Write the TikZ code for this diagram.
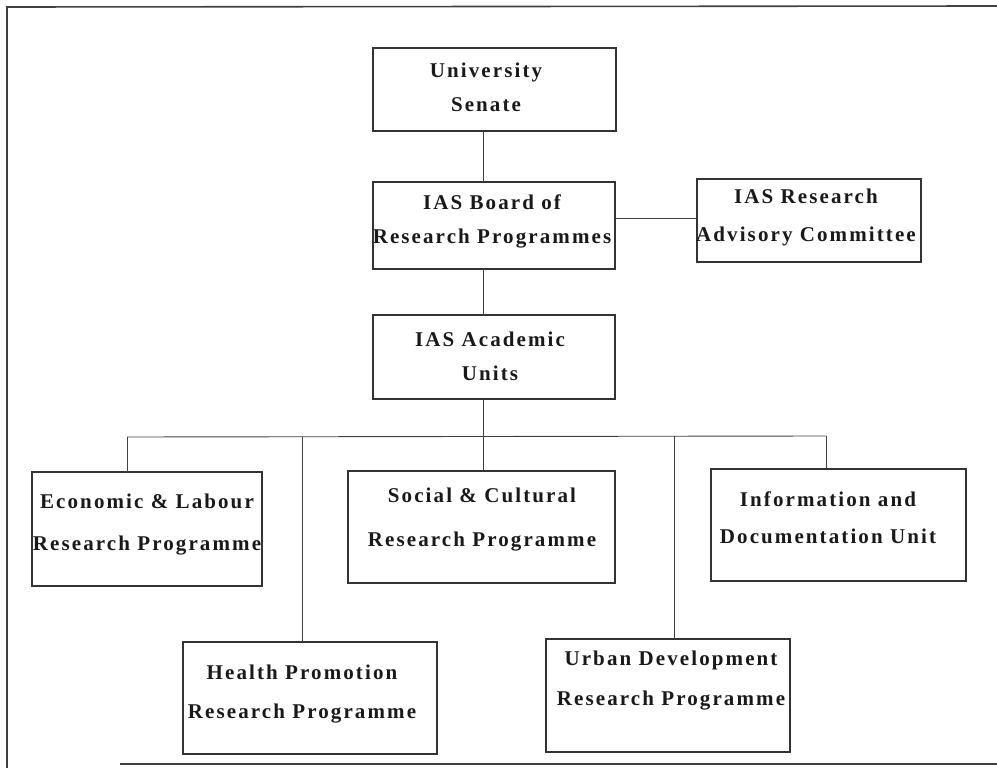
\documentclass[tikz,border=0pt]{standalone}
\usepackage{fontspec}
\newfontfamily\boxfont[LetterSpace=10]{Liberation Serif}
\begin{document}
\begin{tikzpicture}[x=1pt,y=-1pt,
  box/.style={draw=black!80, line width=1.2pt, inner sep=0pt, outer sep=0pt},
  txt/.style={font=\boxfont\bfseries\fontsize{21}{#1}\selectfont, align=center, inner sep=0pt, text=black!90},
  txt/.default=38,
  conn/.style={draw=black!75, line width=0.9pt},
  frame/.style={draw=black!75, line width=1.6pt}]
\useasboundingbox (0,0) rectangle (997,768);
% frame
\coordinate (ftl) at (7,7);
\coordinate (ftr) at (997,6);
\coordinate (fbl) at (7,768);
\coordinate (fbs) at (120,764);
\coordinate (fbr) at (997,764);
\draw[frame] (fbl) -- (ftl) -- (ftr);
\draw[frame] (fbs) -- (fbr);
% boxes
\node[box, minimum width=243, minimum height=83] (senate) at (494.5,89.5) {};
\node[box, minimum width=242, minimum height=87] (board) at (494,225.5) {};
\node[box, minimum width=224, minimum height=83] (adv) at (809,220.5) {};
\node[box, minimum width=242, minimum height=84] (units) at (494,357) {};
\node[box, minimum width=230, minimum height=114] (econ) at (147,529) {};
\node[box, minimum width=267, minimum height=112] (social) at (481.5,527) {};
\node[box, minimum width=255, minimum height=112] (info) at (838.5,525) {};
\node[box, minimum width=254, minimum height=112] (health) at (310,698) {};
\node[box, minimum width=244, minimum height=113] (urban) at (668,695.5) {};
% texts
\node[txt=34] (senatet) at (486,87) {University\\Senate};
\node[txt=34] (boardt) at (492,221) {IAS Board of\\Research Programmes};
\node[txt=34] (unitst) at (490,356) {IAS Academic\\Units};
\node[txt=38] (advt) at (806,217) {IAS Research\\Advisory Committee};
\node[txt=42] (econt) at (147,525) {Economic \& Labour\\Research Programme};
\node[txt=44] (socialt) at (482,520) {Social \& Cultural\\Research Programme};
\node[txt=37] (infot) at (828,517.5) {Information and\\Documentation Unit};
\node[txt=39] (healtht) at (302,694.5) {Health Promotion\\Research Programme};
\node[txt=40] (urbant) at (671,681) {Urban Development\\Research Programme};
% connectors
\coordinate (spine) at (483,0);
\coordinate (busL) at (127,437);
\coordinate (busR) at (826,436);
\coordinate (busM) at (483,436.5);
\draw[conn] (senate.south -| spine) -- (board.north -| spine);
\draw[conn] ([yshift=2.5pt]adv.west -| board.east) -- ([yshift=2.5pt]adv.west);
\draw[conn] (board.south -| spine) -- (units.north -| spine);
\draw[conn] (units.south -| spine) -- (busM);
\draw[conn] (busL) -- (busR);
\draw[conn] (busL) -- (busL |- econ.north);
\draw[conn] (302,436.8) coordinate (bh) -- (bh |- health.north);
\draw[conn] (busM) -- (busM |- social.north);
\draw[conn] (674,436.2) coordinate (bu) -- (bu |- urban.north);
\draw[conn] (busR) -- (busR |- info.north);
\end{tikzpicture}
\end{document}
